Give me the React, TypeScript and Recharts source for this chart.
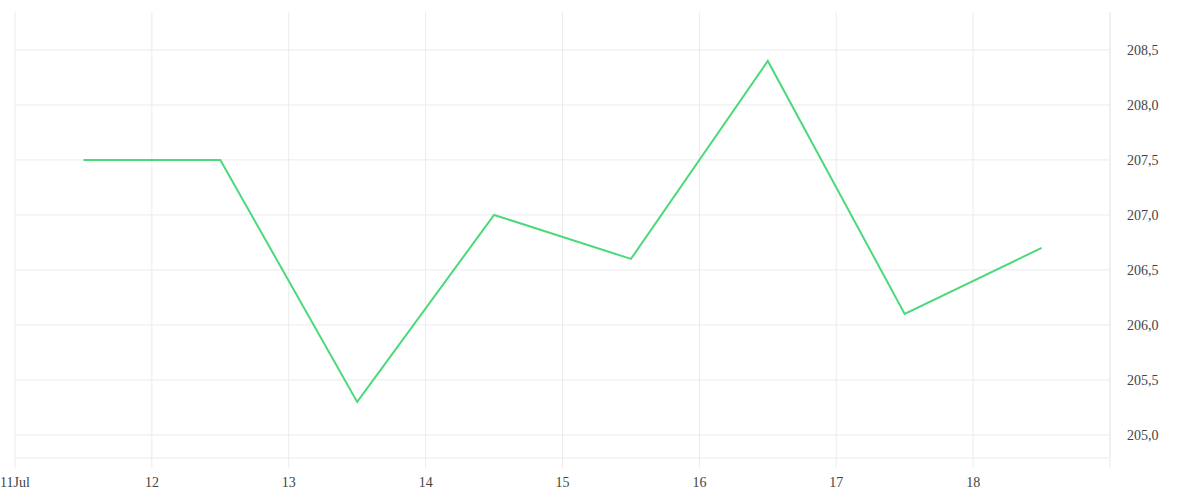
import { LineChart, Line, XAxis, YAxis, CartesianGrid } from "recharts"

// points sit in the middle of each day
const days = [11.5, 12.5, 13.5, 14.5, 15.5, 16.5, 17.5, 18.5]
const prices = [207.5, 207.5, 205.3, 207.0, 206.6, 208.4, 206.1, 206.7]

const xTicks = [11, 12, 13, 14, 15, 16, 17, 18, 19]
const xTickLabels = ["11Jul", "12", "13", "14", "15", "16", "17", "18", ""]
const yTicks = [205, 205.5, 206, 206.5, 207, 207.5, 208, 208.5]

const data = days.map((d, i) => ({ day: d, price: prices[i] }))

const gridColor = "#ebebeb"
const textStyle = { fill: "#444", fontSize: 14 }

export default function App() {
  return (
    <div style={{ position: "absolute", left: 0, top: 0 }}>
      <LineChart width={1200} height={500} data={data} margin={{ top: 12, right: 0, left: 15, bottom: 0 }}>
        <CartesianGrid stroke={gridColor} horizontalValues={yTicks} verticalValues={xTicks} />
        <XAxis
          dataKey="day"
          type="number"
          domain={[11, 19]}
          ticks={xTicks}
          interval={0}
          tickFormatter={(v: number) => xTickLabels[xTicks.indexOf(v)] ?? ""}
          height={42}
          axisLine={{ stroke: gridColor }}
          tickLine={{ stroke: gridColor }}
          tickSize={10}
          tickMargin={9}
          tick={textStyle}
        />
        <YAxis
          orientation="right"
          domain={[204.79, 208.845]}
          ticks={yTicks}
          allowDataOverflow
          width={90}
          axisLine={{ stroke: gridColor }}
          tickLine={false}
          tickMargin={11}
          tick={{ ...textStyle, textAnchor: "start" }}
          tickFormatter={(v: number) => v.toFixed(1).replace(".", ",")}
        />
        <Line
          type="linear"
          dataKey="price"
          stroke="#4cd97b"
          strokeWidth={2}
          dot={false}
          isAnimationActive={false}
        />
      </LineChart>
    </div>
  )
}
